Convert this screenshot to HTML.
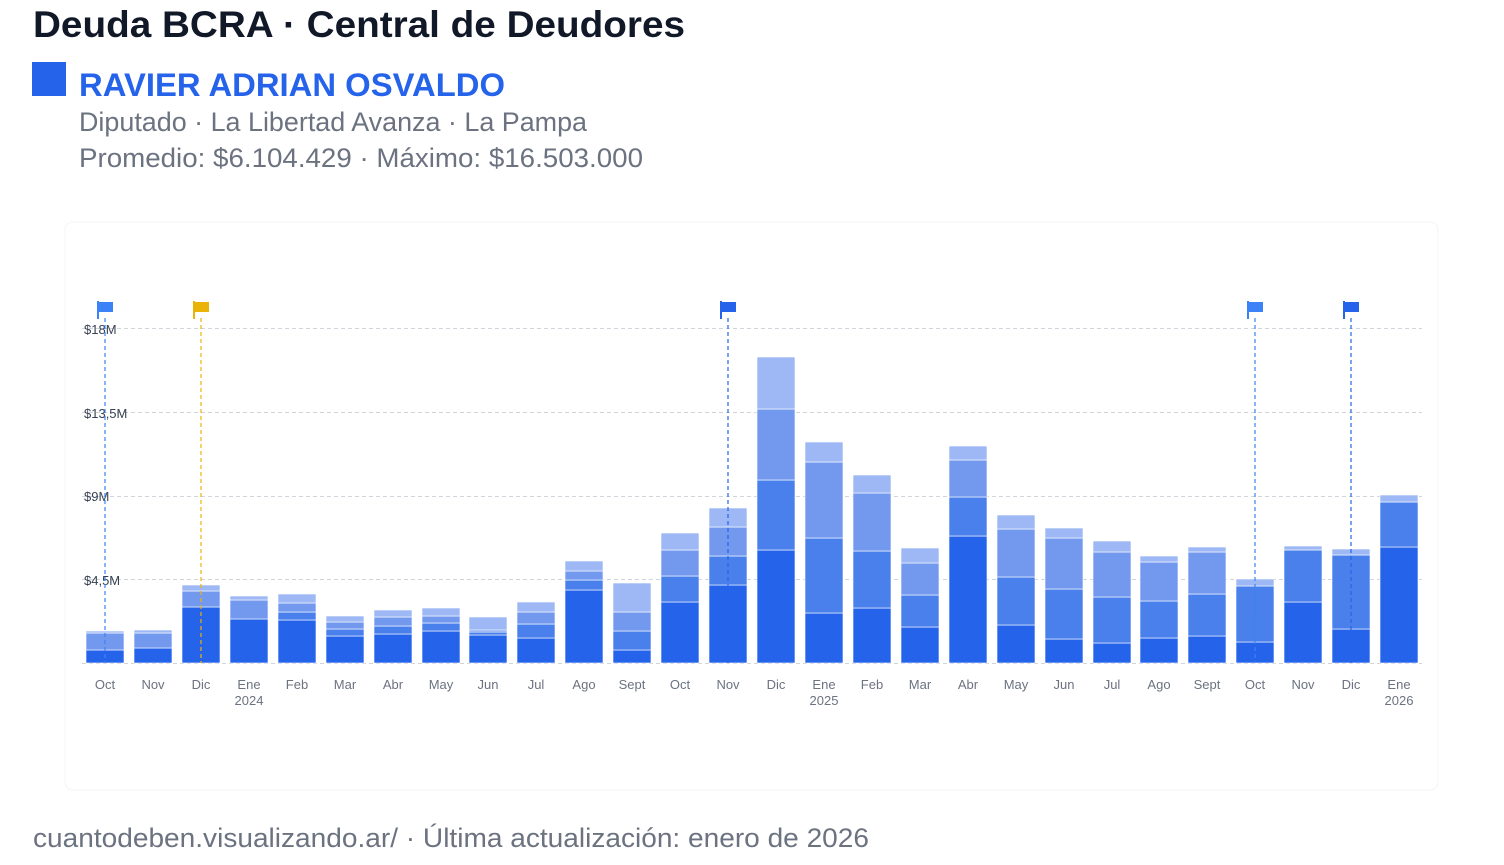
<!DOCTYPE html>
<html><head><meta charset="utf-8"><style>
html,body{margin:0;padding:0;background:#fff;width:1504px;height:865px;overflow:hidden}
svg{display:block;font-family:"Liberation Sans",sans-serif}
</style></head><body>
<svg width="1504" height="865" viewBox="0 0 1504 865" xmlns="http://www.w3.org/2000/svg">
<text x="33" y="37" font-size="37" font-weight="bold" fill="#111827" textLength="652" lengthAdjust="spacingAndGlyphs">Deuda BCRA · Central de Deudores</text>
<rect x="32" y="62" width="34" height="34" fill="#2563eb"/>
<text x="79" y="96" font-size="32" font-weight="bold" fill="#2563eb" textLength="426" lengthAdjust="spacingAndGlyphs">RAVIER ADRIAN OSVALDO</text>
<text x="79" y="131" font-size="27" fill="#6b7280" textLength="508" lengthAdjust="spacingAndGlyphs">Diputado · La Libertad Avanza · La Pampa</text>
<text x="79" y="167" font-size="27" fill="#6b7280" textLength="564" lengthAdjust="spacingAndGlyphs">Promedio: $6.104.429  ·  Máximo: $16.503.000</text>
<rect x="65" y="222" width="1373" height="568" rx="8" fill="#fff" stroke="#f3f4f6" stroke-width="1"/>
<g stroke="#d1d5db" stroke-dasharray="4,3" stroke-width="1">
<line x1="82" y1="328.5" x2="1422" y2="328.5"/>
<line x1="82" y1="412.5" x2="1422" y2="412.5"/>
<line x1="82" y1="496.5" x2="1422" y2="496.5"/>
<line x1="82" y1="579.5" x2="1422" y2="579.5"/>
<line x1="82" y1="663.5" x2="1422" y2="663.5"/>
</g>
<g font-size="13" fill="#374151">
<text x="84" y="334">$18M</text>
<text x="84" y="418">$13,5M</text>
<text x="84" y="501">$9M</text>
<text x="84" y="585">$4,5M</text>
</g>
<g stroke="#fff" stroke-width="0.6">
<rect x="86" y="650" width="38" height="13" fill="#2563eb"/><rect x="86" y="633" width="38" height="17" fill="#7399ef"/><rect x="86" y="631" width="38" height="2" fill="#9db8f5"/>
<rect x="134" y="648" width="38" height="15" fill="#2563eb"/><rect x="134" y="633" width="38" height="15" fill="#7399ef"/><rect x="134" y="630" width="38" height="3" fill="#9db8f5"/>
<rect x="182" y="607" width="38" height="56" fill="#2563eb"/><rect x="182" y="591" width="38" height="16" fill="#7399ef"/><rect x="182" y="585" width="38" height="6" fill="#9db8f5"/>
<rect x="230" y="619" width="38" height="44" fill="#2563eb"/><rect x="230" y="600" width="38" height="19" fill="#7399ef"/><rect x="230" y="596" width="38" height="4" fill="#9db8f5"/>
<rect x="278" y="620" width="38" height="43" fill="#2563eb"/><rect x="278" y="612" width="38" height="8" fill="#4a80ec"/><rect x="278" y="603" width="38" height="9" fill="#7399ef"/><rect x="278" y="594" width="38" height="9" fill="#9db8f5"/>
<rect x="326" y="636" width="38" height="27" fill="#2563eb"/><rect x="326" y="629" width="38" height="7" fill="#4a80ec"/><rect x="326" y="622" width="38" height="7" fill="#7399ef"/><rect x="326" y="616" width="38" height="6" fill="#9db8f5"/>
<rect x="374" y="634" width="38" height="29" fill="#2563eb"/><rect x="374" y="626" width="38" height="8" fill="#4a80ec"/><rect x="374" y="617" width="38" height="9" fill="#7399ef"/><rect x="374" y="610" width="38" height="7" fill="#9db8f5"/>
<rect x="422" y="631" width="38" height="32" fill="#2563eb"/><rect x="422" y="623" width="38" height="8" fill="#4a80ec"/><rect x="422" y="616" width="38" height="7" fill="#7399ef"/><rect x="422" y="608" width="38" height="8" fill="#9db8f5"/>
<rect x="469" y="635" width="38" height="28" fill="#2563eb"/><rect x="469" y="632" width="38" height="3" fill="#4a80ec"/><rect x="469" y="630" width="38" height="2" fill="#7399ef"/><rect x="469" y="617" width="38" height="13" fill="#9db8f5"/>
<rect x="517" y="638" width="38" height="25" fill="#2563eb"/><rect x="517" y="624" width="38" height="14" fill="#4a80ec"/><rect x="517" y="612" width="38" height="12" fill="#7399ef"/><rect x="517" y="602" width="38" height="10" fill="#9db8f5"/>
<rect x="565" y="590" width="38" height="73" fill="#2563eb"/><rect x="565" y="580" width="38" height="10" fill="#4a80ec"/><rect x="565" y="571" width="38" height="9" fill="#7399ef"/><rect x="565" y="561" width="38" height="10" fill="#9db8f5"/>
<rect x="613" y="650" width="38" height="13" fill="#2563eb"/><rect x="613" y="631" width="38" height="19" fill="#4a80ec"/><rect x="613" y="612" width="38" height="19" fill="#7399ef"/><rect x="613" y="583" width="38" height="29" fill="#9db8f5"/>
<rect x="661" y="602" width="38" height="61" fill="#2563eb"/><rect x="661" y="576" width="38" height="26" fill="#4a80ec"/><rect x="661" y="550" width="38" height="26" fill="#7399ef"/><rect x="661" y="533" width="38" height="17" fill="#9db8f5"/>
<rect x="709" y="585" width="38" height="78" fill="#2563eb"/><rect x="709" y="556" width="38" height="29" fill="#4a80ec"/><rect x="709" y="527" width="38" height="29" fill="#7399ef"/><rect x="709" y="508" width="38" height="19" fill="#9db8f5"/>
<rect x="757" y="550" width="38" height="113" fill="#2563eb"/><rect x="757" y="480" width="38" height="70" fill="#4a80ec"/><rect x="757" y="409" width="38" height="71" fill="#7399ef"/><rect x="757" y="357" width="38" height="52" fill="#9db8f5"/>
<rect x="805" y="613" width="38" height="50" fill="#2563eb"/><rect x="805" y="538" width="38" height="75" fill="#4a80ec"/><rect x="805" y="462" width="38" height="76" fill="#7399ef"/><rect x="805" y="442" width="38" height="20" fill="#9db8f5"/>
<rect x="853" y="608" width="38" height="55" fill="#2563eb"/><rect x="853" y="551" width="38" height="57" fill="#4a80ec"/><rect x="853" y="493" width="38" height="58" fill="#7399ef"/><rect x="853" y="475" width="38" height="18" fill="#9db8f5"/>
<rect x="901" y="627" width="38" height="36" fill="#2563eb"/><rect x="901" y="595" width="38" height="32" fill="#4a80ec"/><rect x="901" y="563" width="38" height="32" fill="#7399ef"/><rect x="901" y="548" width="38" height="15" fill="#9db8f5"/>
<rect x="949" y="536" width="38" height="127" fill="#2563eb"/><rect x="949" y="497" width="38" height="39" fill="#4a80ec"/><rect x="949" y="460" width="38" height="37" fill="#7399ef"/><rect x="949" y="446" width="38" height="14" fill="#9db8f5"/>
<rect x="997" y="625" width="38" height="38" fill="#2563eb"/><rect x="997" y="577" width="38" height="48" fill="#4a80ec"/><rect x="997" y="529" width="38" height="48" fill="#7399ef"/><rect x="997" y="515" width="38" height="14" fill="#9db8f5"/>
<rect x="1045" y="639" width="38" height="24" fill="#2563eb"/><rect x="1045" y="589" width="38" height="50" fill="#4a80ec"/><rect x="1045" y="538" width="38" height="51" fill="#7399ef"/><rect x="1045" y="528" width="38" height="10" fill="#9db8f5"/>
<rect x="1093" y="643" width="38" height="20" fill="#2563eb"/><rect x="1093" y="597" width="38" height="46" fill="#4a80ec"/><rect x="1093" y="552" width="38" height="45" fill="#7399ef"/><rect x="1093" y="541" width="38" height="11" fill="#9db8f5"/>
<rect x="1140" y="638" width="38" height="25" fill="#2563eb"/><rect x="1140" y="601" width="38" height="37" fill="#4a80ec"/><rect x="1140" y="562" width="38" height="39" fill="#7399ef"/><rect x="1140" y="556" width="38" height="6" fill="#9db8f5"/>
<rect x="1188" y="636" width="38" height="27" fill="#2563eb"/><rect x="1188" y="594" width="38" height="42" fill="#4a80ec"/><rect x="1188" y="552" width="38" height="42" fill="#7399ef"/><rect x="1188" y="547" width="38" height="5" fill="#9db8f5"/>
<rect x="1236" y="642" width="38" height="21" fill="#2563eb"/><rect x="1236" y="586" width="38" height="56" fill="#4a80ec"/><rect x="1236" y="579" width="38" height="7" fill="#9db8f5"/>
<rect x="1284" y="602" width="38" height="61" fill="#2563eb"/><rect x="1284" y="550" width="38" height="52" fill="#4a80ec"/><rect x="1284" y="546" width="38" height="4" fill="#9db8f5"/>
<rect x="1332" y="629" width="38" height="34" fill="#2563eb"/><rect x="1332" y="555" width="38" height="74" fill="#4a80ec"/><rect x="1332" y="549" width="38" height="6" fill="#9db8f5"/>
<rect x="1380" y="547" width="38" height="116" fill="#2563eb"/><rect x="1380" y="502" width="38" height="45" fill="#4a80ec"/><rect x="1380" y="495" width="38" height="7" fill="#9db8f5"/>
</g>
<g stroke-dasharray="4,3" stroke-width="1.2">
<line x1="105" y1="318" x2="105" y2="663" stroke="#3b82f6"/>
<line x1="201" y1="318" x2="201" y2="663" stroke="#eab308"/>
<line x1="728" y1="318" x2="728" y2="663" stroke="#2563eb"/>
<line x1="1255" y1="318" x2="1255" y2="663" stroke="#3b82f6"/>
<line x1="1351" y1="318" x2="1351" y2="663" stroke="#2563eb"/>
</g>
<g>
<path d="M97 301h2v18h-2zM99 302h14v10h-14z" fill="#3b82f6"/>
<path d="M193 301h2v18h-2zM195 302h14v10h-14z" fill="#eab308"/>
<path d="M720 301h2v18h-2zM722 302h14v10h-14z" fill="#2563eb"/>
<path d="M1247 301h2v18h-2zM1249 302h14v10h-14z" fill="#3b82f6"/>
<path d="M1343 301h2v18h-2zM1345 302h14v10h-14z" fill="#2563eb"/>
</g>
<g font-size="13" fill="#6b7280" text-anchor="middle">
<text x="105" y="689">Oct</text><text x="153" y="689">Nov</text><text x="201" y="689">Dic</text><text x="249" y="689">Ene</text><text x="249" y="705">2024</text>
<text x="297" y="689">Feb</text><text x="345" y="689">Mar</text><text x="393" y="689">Abr</text><text x="441" y="689">May</text><text x="488" y="689">Jun</text>
<text x="536" y="689">Jul</text><text x="584" y="689">Ago</text><text x="632" y="689">Sept</text><text x="680" y="689">Oct</text><text x="728" y="689">Nov</text>
<text x="776" y="689">Dic</text><text x="824" y="689">Ene</text><text x="824" y="705">2025</text><text x="872" y="689">Feb</text><text x="920" y="689">Mar</text>
<text x="968" y="689">Abr</text><text x="1016" y="689">May</text><text x="1064" y="689">Jun</text><text x="1112" y="689">Jul</text><text x="1159" y="689">Ago</text>
<text x="1207" y="689">Sept</text><text x="1255" y="689">Oct</text><text x="1303" y="689">Nov</text><text x="1351" y="689">Dic</text><text x="1399" y="689">Ene</text><text x="1399" y="705">2026</text>
</g>
<text x="33" y="847" font-size="27" fill="#6b7280" textLength="836" lengthAdjust="spacingAndGlyphs">cuantodeben.visualizando.ar/  ·  Última actualización: enero de 2026</text>
</svg>
</body></html>
